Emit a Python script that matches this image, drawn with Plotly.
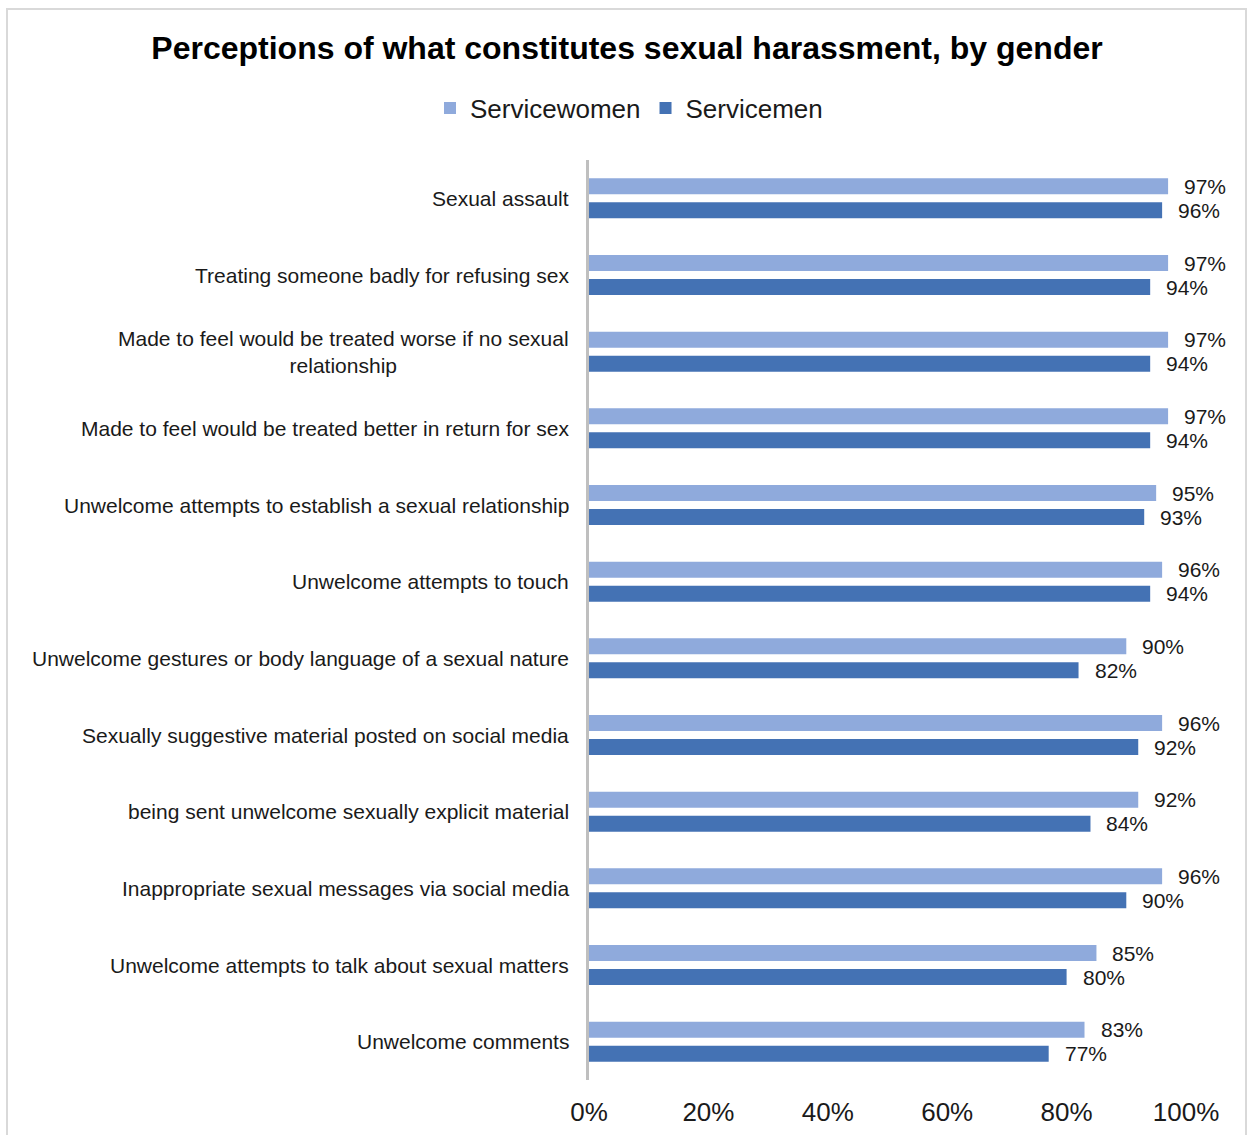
import plotly.graph_objects as go

# Survey items (top to bottom) and share of respondents who see each as sexual harassment
categories = [
    "Sexual assault",
    "Treating someone badly for refusing sex",
    "Made to feel would be treated worse if no sexual<br>relationship",
    "Made to feel would be treated better in return for sex",
    "Unwelcome attempts to establish a sexual relationship",
    "Unwelcome attempts to touch",
    "Unwelcome gestures or body language of a sexual nature",
    "Sexually suggestive material posted on social media",
    "being sent unwelcome sexually explicit material",
    "Inappropriate sexual messages via social media",
    "Unwelcome attempts to talk about sexual matters",
    "Unwelcome comments",
]
servicewomen = [97, 97, 97, 97, 95, 96, 90, 96, 92, 96, 85, 83]
servicemen = [96, 94, 94, 94, 93, 94, 82, 92, 84, 90, 80, 77]
x_ticks = [0, 20, 40, 60, 80, 100]
x_tick_labels = ["0%", "20%", "40%", "60%", "80%", "100%"]

FONT = "Liberation Sans, Arial, sans-serif"
LIGHT = "#8FAADC"
DARK = "#4472B4"
TEXT = "#1a1a1a"

W, H = 1247, 1135
L, R, T, B = 589, 61, 160, 55
plot_w = W - L - R
plot_h = H - T - B


def px_x(px):
    return (px - L) / plot_w


def px_y(py):
    return (H - B - py) / plot_h


fig = go.Figure()
fig.add_trace(go.Bar(
    name="Servicewomen", y=categories, x=servicewomen, orientation="h",
    marker=dict(color=LIGHT, line=dict(width=0)),
))
fig.add_trace(go.Bar(
    name="Servicemen", y=categories, x=servicemen, orientation="h",
    marker=dict(color=DARK, line=dict(width=0)),
))

annotations = []
# Value labels just past the end of each bar
for cat, v in zip(categories, servicewomen):
    annotations.append(dict(
        x=v, y=cat, xref="x", yref="y", text=f"{v}%", showarrow=False,
        xanchor="left", yanchor="middle", xshift=14, yshift=12,
        font=dict(family=FONT, size=21, color=TEXT),
    ))
for cat, v in zip(categories, servicemen):
    annotations.append(dict(
        x=v, y=cat, xref="x", yref="y", text=f"{v}%", showarrow=False,
        xanchor="left", yanchor="middle", xshift=14, yshift=-12,
        font=dict(family=FONT, size=21, color=TEXT),
    ))
# Category labels to the left of the axis
for cat in categories:
    annotations.append(dict(
        x=px_x(571), y=cat, xref="paper", yref="y", text=cat, showarrow=False,
        xanchor="right", yanchor="middle", align="center",
        font=dict(family=FONT, size=21, color=TEXT),
    ))

fig.update_layout(
    width=W, height=H,
    margin=dict(l=L, r=R, t=T, b=B, autoexpand=False),
    paper_bgcolor="white", plot_bgcolor="white",
    barmode="group", bargap=0.373, bargroupgap=0.333,
    title=dict(
        text="<b>Perceptions of what constitutes sexual harassment, by gender</b>",
        x=627 / W, xanchor="center", xref="container",
        y=1 - 48 / H, yanchor="middle", yref="container",
        font=dict(family=FONT, size=32, color="black"),
    ),
    legend=dict(
        orientation="h", x=px_x(629), xanchor="center",
        y=px_y(108), yanchor="middle",
        font=dict(family=FONT, size=26, color=TEXT),
        itemwidth=30, traceorder="normal",
        bgcolor="rgba(0,0,0,0)",
    ),
    xaxis=dict(
        range=[0, 100], tickvals=x_ticks, ticktext=x_tick_labels,
        showgrid=False, zeroline=False, showline=False, ticks="",
        tickfont=dict(family=FONT, size=26, color=TEXT),
        ticklabelstandoff=14, fixedrange=True,
    ),
    yaxis=dict(
        type="category", categoryorder="array", categoryarray=categories,
        autorange="reversed", showticklabels=False, ticks="",
        showgrid=False, zeroline=False,
        showline=True, linecolor="#BFBFBF", linewidth=3,
    ),
    annotations=annotations,
    shapes=[dict(
        type="rect", xref="paper", yref="paper",
        x0=px_x(7), x1=px_x(1246), y0=px_y(1145), y1=px_y(9),
        line=dict(color="#D9D9D9", width=2), fillcolor="rgba(0,0,0,0)",
        layer="below",
    )],
    showlegend=True,
)

fig.write_html("out.html")
